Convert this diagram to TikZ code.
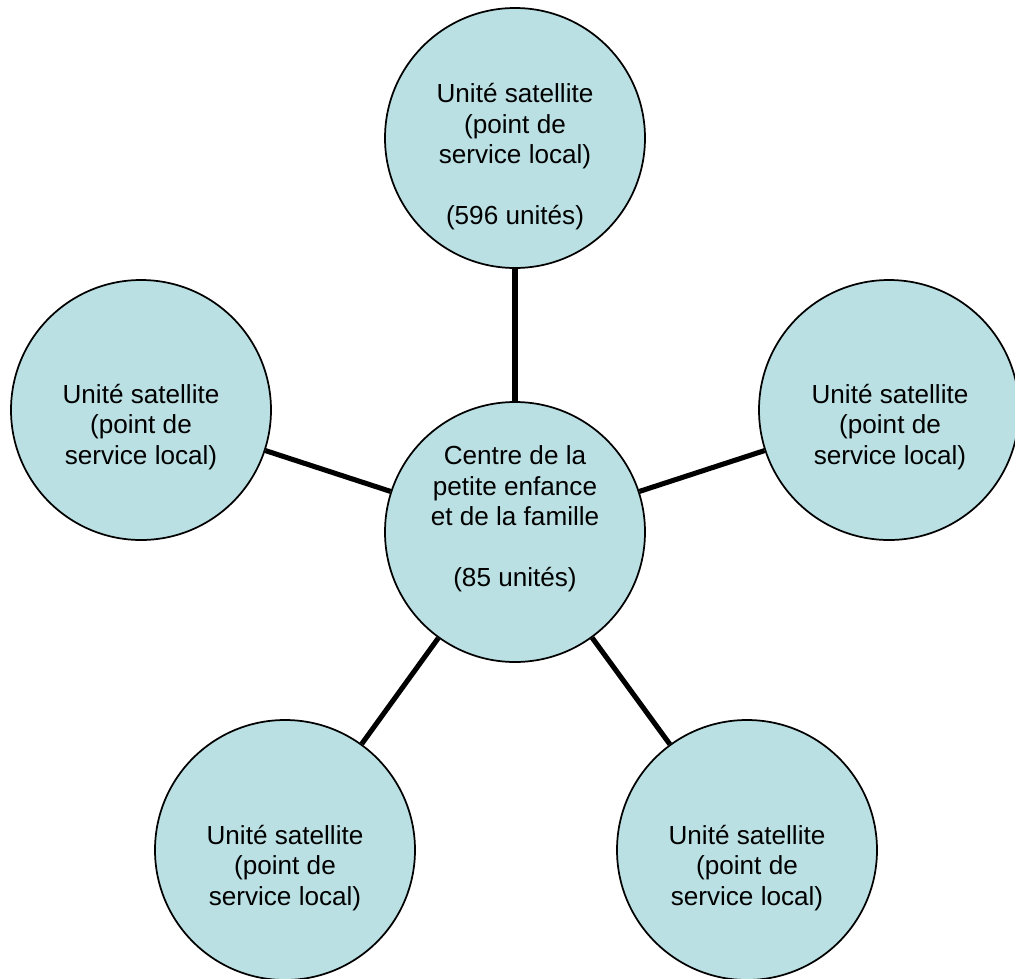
\documentclass[tikz,border=0pt]{standalone}
\usepackage{fontspec}
\setmainfont{Liberation Sans}
\definecolor{bubble}{RGB}{186,224,227}
\begin{document}
\begin{tikzpicture}[x=0.75pt,y=-0.75pt,
  bubble/.style={circle,draw=black,line width=1.3pt,fill=bubble,minimum size=195pt,inner sep=0pt},
  label/.style={align=center,inner sep=0pt,font=\fontsize{19.6pt}{22.9pt}\selectfont},
  link/.style={line width=3.8pt,black}]
\useasboundingbox (0,0) rectangle (1015,979);
% circles
\node[bubble] (top) at (515,138) {};
\node[bubble] (left) at (141,410) {};
\node[bubble] (right) at (889,410) {};
\node[bubble] (center) at (515,532) {};
\node[bubble] (bl) at (285,850) {};
\node[bubble] (br) at (747,850) {};
% connectors
\draw[link] (center) -- (top);
\draw[link] (center) -- (left);
\draw[link] (center) -- (right);
\draw[link] (center) -- (bl);
\draw[link] (center) -- (br);
% texts
\node[label] (ttop) at (515,157) {Unité satellite\\(point de\\service local)\\[22.9pt](596 unités)};
\node[label] (tleft) at (141,427) {Unité satellite\\(point de\\service local)};
\node[label] (tright) at (890,427) {Unité satellite\\(point de\\service local)};
\node[label] (tcenter) at (515,519) {Centre de la\\petite enfance\\et de la famille\\[22.9pt](85 unités)};
\node[label] (tbl) at (285,868) {Unité satellite\\(point de\\service local)};
\node[label] (tbr) at (747,868) {Unité satellite\\(point de\\service local)};
\end{tikzpicture}
\end{document}
